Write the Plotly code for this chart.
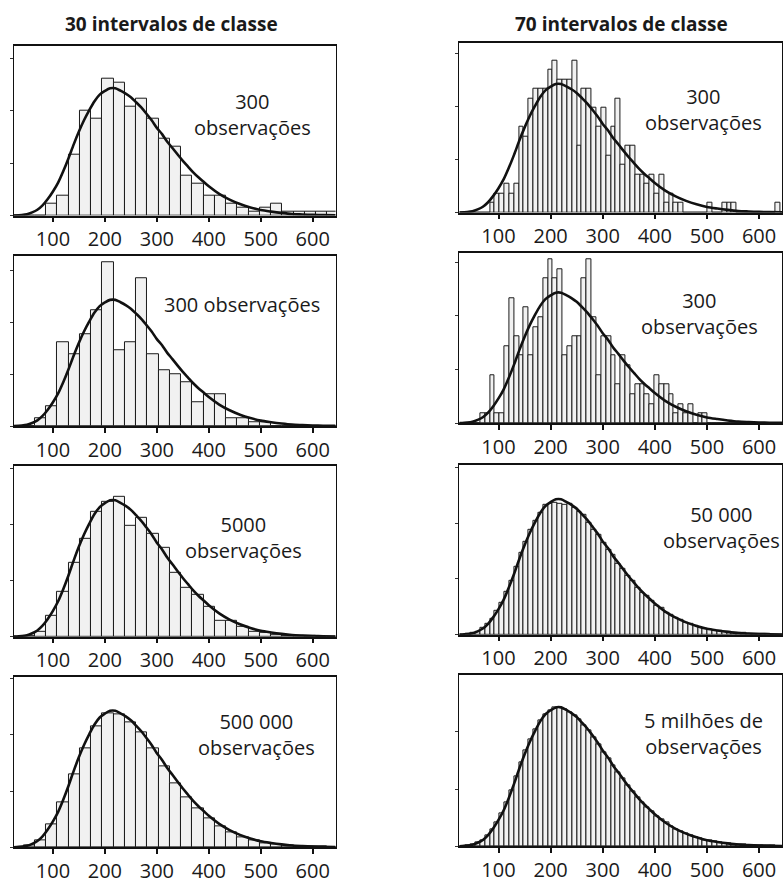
import numpy as np
import plotly.graph_objects as go

# ---------------- data ----------------
BIN_LO, BIN_HI = 0, 650           # histogram support (value units)
X_RANGE = [25, 644]
X_TICKS = [100, 200, 300, 400, 500, 600]
Y_TICKS = [0, 2, 4, 6]            # density x 1000

titles = ["30 intervalos de classe", "70 intervalos de classe"]

# fitted density curve (density x 1000)
curve_x = [25, 40, 50, 60, 70, 80, 90, 100, 110, 120, 130, 140, 150, 160, 170, 180, 190, 200,
           210, 220, 230, 240, 250, 260, 270, 280, 290, 300, 310, 320, 330, 340, 350, 360, 370,
           380, 390, 400, 420, 440, 460, 480, 500, 520, 540, 560, 580, 600, 620, 644]
curve_y = [0.0, 0.02, 0.05, 0.12, 0.22, 0.39, 0.63, 0.92, 1.26, 1.70, 2.19, 2.72, 3.21, 3.65,
           4.03, 4.37, 4.62, 4.76, 4.86, 4.86, 4.77, 4.66, 4.52, 4.33, 4.13, 3.89, 3.64, 3.35,
           3.11, 2.82, 2.58, 2.33, 2.09, 1.87, 1.65, 1.46, 1.29, 1.12, 0.83, 0.61, 0.44, 0.31,
           0.21, 0.15, 0.10, 0.06, 0.04, 0.024, 0.015, 0.008]

# 30 classes, 300 observations (counts)
counts30_a = [0, 0, 0, 0, 3, 5, 15, 26, 24, 34, 33, 27, 29, 24, 19, 17, 10, 8, 5, 5,
              3, 2, 1, 2, 3, 1, 1, 1, 1, 1]
counts30_b = [0, 0, 0, 2, 5, 21, 18, 23, 29, 41, 19, 21, 37, 18, 14, 13, 11, 6, 8, 8,
              2, 2, 1, 1, 0, 0, 0, 0, 0, 0]
# 30 classes, large samples (density x 1000)
dens30_5000 = [0, 0, 0.04, 0.18, 0.76, 1.59, 2.62, 3.48, 4.45, 4.80, 5.00, 3.94, 4.25, 3.65,
               3.15, 2.27, 1.74, 1.49, 1.06, 0.56, 0.56, 0.35, 0.18, 0.15, 0.08, 0.04, 0.02,
               0.02, 0.01, 0.0]
dens30_500k = [0, 0.01, 0.06, 0.24, 0.80, 1.59, 2.59, 3.53, 4.29, 4.76, 4.74, 4.45, 4.09, 3.51,
               2.88, 2.29, 1.79, 1.38, 1.04, 0.73, 0.53, 0.35, 0.24, 0.15, 0.10, 0.06, 0.04,
               0.025, 0.015, 0.01]

# 70 classes, 300 observations (counts)
counts70_a = [0, 0, 0, 0, 0, 0, 0, 0, 0, 1, 2, 2, 3, 2, 3, 9, 8, 12, 13, 13,
              13, 15, 16, 14, 14, 14, 16, 7, 13, 13, 11, 9, 11, 6, 9, 12, 5, 7, 7, 4,
              4, 3, 4, 2, 4, 1, 2, 1, 1, 0, 0, 0, 0, 0, 1, 0, 0, 1, 1, 1,
              0, 0, 0, 0, 0, 0, 0, 0, 1, 0]
counts70_b = [0, 0, 0, 0, 0, 0, 0, 1, 1, 5, 1, 1, 8, 13, 9, 7, 12, 7, 10, 11,
              15, 17, 15, 16, 7, 8, 9, 9, 15, 17, 11, 5, 9, 9, 7, 4, 7, 6, 3, 4,
              4, 3, 2, 5, 4, 4, 3, 1, 2, 1, 2, 0, 1, 1, 0, 0, 0, 0, 0, 0,
              0, 0, 0, 0, 0, 0, 0, 0, 0, 0]
# 70 classes, large samples (density x 1000)
dens70_50k = [0, 0, 0, 0, 0.02, 0.05, 0.12, 0.24, 0.38, 0.57, 0.86, 1.13, 1.55, 1.95, 2.42,
              2.95, 3.33, 3.78, 4.10, 4.36, 4.65, 4.70, 4.72, 4.70, 4.66, 4.70, 4.55, 4.40,
              4.30, 4.02, 3.78, 3.60, 3.30, 3.06, 2.85, 2.55, 2.38, 2.12, 1.95, 1.70, 1.52,
              1.40, 1.20, 1.05, 0.95, 0.80, 0.71, 0.60, 0.53, 0.43, 0.38, 0.33, 0.26, 0.22,
              0.19, 0.15, 0.13, 0.11, 0.09, 0.07, 0.06, 0.05, 0.04, 0.03, 0.02, 0.02, 0.015,
              0.01, 0.01, 0.01]
dens70_5M = [0, 0, 0, 0, 0.02, 0.05, 0.12, 0.22, 0.37, 0.58, 0.84, 1.15, 1.52, 1.94, 2.45,
             2.92, 3.35, 3.73, 4.09, 4.40, 4.63, 4.77, 4.85, 4.86, 4.79, 4.69, 4.58, 4.43,
             4.24, 4.04, 3.82, 3.57, 3.30, 3.08, 2.82, 2.58, 2.36, 2.14, 1.93, 1.72, 1.53,
             1.37, 1.21, 1.06, 0.93, 0.82, 0.70, 0.60, 0.52, 0.44, 0.38, 0.32, 0.27, 0.22,
             0.19, 0.16, 0.13, 0.11, 0.09, 0.08, 0.06, 0.05, 0.04, 0.03, 0.025, 0.02, 0.015,
             0.012, 0.01, 0.008]

labels = ["300<br>observações", "300 observações", "5000<br>observações",
          "500 000<br>observações", "300<br>observações", "300<br>observações",
          "50 000<br>observações", "5 milhões de<br>observações"]
sample_sizes = [300, 300, 5000, 500000, 300, 300, 50000, 5000000]

# ---------------- layout (pixels) ----------------
W, H = 783, 884
FONT = "Open Sans"


def to_density(counts, n):
    counts = np.asarray(counts, dtype=float)
    bw = (BIN_HI - BIN_LO) / len(counts)
    return counts / (n * bw) * 1000.0


heights = [
    to_density(counts30_a, 300),
    to_density(counts30_b, 300),
    np.asarray(dens30_5000),
    np.asarray(dens30_500k),
    to_density(counts70_a, 300),
    to_density(counts70_b, 300),
    np.asarray(dens70_50k),
    np.asarray(dens70_5M),
]

# panel boxes: (left, right, top, bottom) in pixels, y-range max
boxes = [
    (14, 336, 46, 217, 6.49),
    (14, 336, 258, 429, 6.54),
    (14, 336, 469, 641, 6.09),
    (14, 336, 682, 853, 6.05),
    (460, 783, 43, 214, 6.42),
    (460, 783, 255, 426, 6.33),
    (460, 783, 468, 639, 6.10),
    (460, 783, 680, 852, 5.98),
]
label_pos = [(253, 115), (242, 307), (244, 541), (257, 740),
             (704, 110), (700, 316), (722, 531), (704, 739)]

fig = go.Figure()
layout = dict(
    width=W, height=H, margin=dict(l=0, r=0, t=0, b=0),
    paper_bgcolor="white", plot_bgcolor="white", showlegend=False,
    bargap=0, font=dict(family=FONT, color="#1a1a1a"),
)
annotations = []

for i, (h, box) in enumerate(zip(heights, boxes)):
    idx = i + 1
    xa = "x" if idx == 1 else f"x{idx}"
    ya = "y" if idx == 1 else f"y{idx}"
    nb = len(h)
    bw = (BIN_HI - BIN_LO) / nb
    centers = BIN_LO + bw * (np.arange(nb) + 0.5)
    fig.add_trace(go.Bar(
        x=centers, y=h, width=bw, xaxis=xa, yaxis=ya,
        marker=dict(color="#f1f1f1", line=dict(color="#1a1a1a", width=1)),
        hoverinfo="skip",
    ))
    fig.add_trace(go.Scatter(
        x=curve_x, y=curve_y, mode="lines", xaxis=xa, yaxis=ya,
        line=dict(color="#111111", width=2.6, shape="spline", smoothing=0.8),
        hoverinfo="skip",
    ))
    l, r, t, b, ymax = box
    layout["xaxis" if idx == 1 else f"xaxis{idx}"] = dict(
        domain=[l / W, r / W], range=X_RANGE, tickvals=X_TICKS,
        ticks="outside", ticklen=5, tickwidth=1.5, tickcolor="#111",
        showline=True, linewidth=1.6, linecolor="#111", mirror=True,
        showgrid=False, zeroline=False, anchor=ya,
        tickfont=dict(size=20, family=FONT, color="#1a1a1a"),
    )
    layout["yaxis" if idx == 1 else f"yaxis{idx}"] = dict(
        domain=[1 - b / H, 1 - t / H], range=[0, ymax], tickvals=Y_TICKS,
        ticks="outside", ticklen=3, tickwidth=1, tickcolor="#333",
        showticklabels=False, showline=True, linewidth=1.4, linecolor="#111",
        mirror=True, showgrid=False, zeroline=False, anchor=xa,
    )
    lx, ly = label_pos[i]
    annotations.append(dict(
        x=lx / W, y=1 - ly / H, xref="paper", yref="paper", text=labels[i],
        showarrow=False, xanchor="center", yanchor="middle",
        font=dict(size=20, family=FONT, color="#1a1a1a"),
    ))

for txt, cx in zip(titles, [172, 622]):
    annotations.append(dict(
        x=cx / W, y=1 - 24 / H, xref="paper", yref="paper", text=f"<b>{txt}</b>",
        showarrow=False, xanchor="center", yanchor="middle",
        font=dict(size=19, family=FONT, color="#1a1a1a"),
    ))

layout["annotations"] = annotations
fig.update_layout(**layout)
fig.write_html("out.html")
